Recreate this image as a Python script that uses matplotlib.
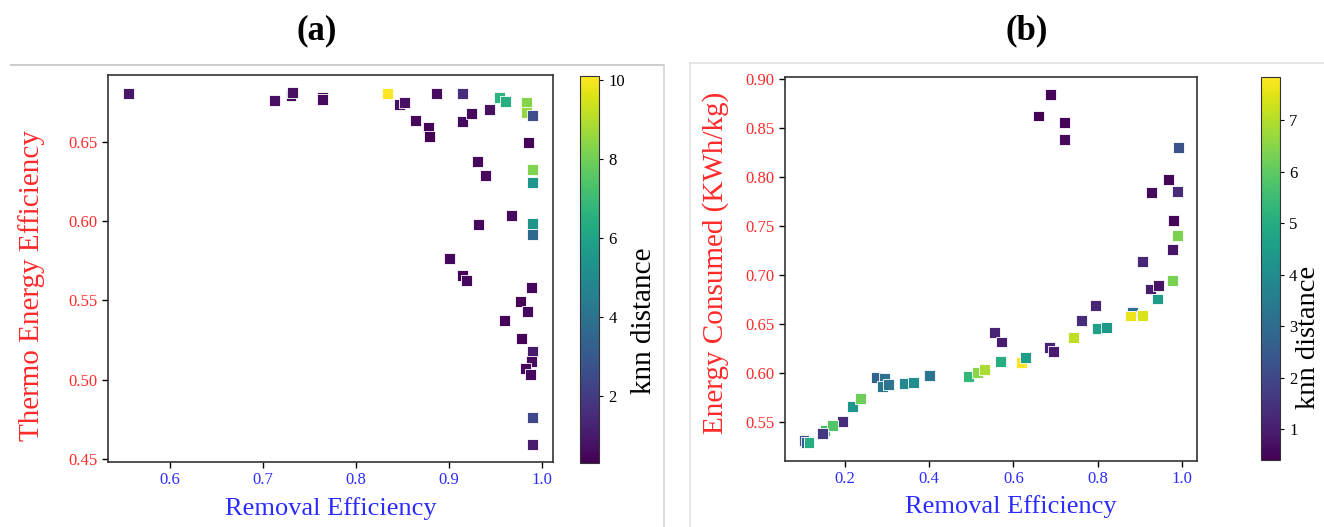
import matplotlib
matplotlib.use('Agg')
import matplotlib.pyplot as plt
from matplotlib.lines import Line2D

plt.rcParams['font.family'] = ['Liberation Serif', 'DejaVu Serif']

# (a) removal efficiency vs thermo energy efficiency
rem_a = [0.5555, 0.712, 0.730, 0.732, 0.7637, 0.764, 0.8334, 0.8466, 0.8517, 0.8643,
         0.8779, 0.879, 0.8865, 0.915, 0.9145, 0.9239, 0.9432, 0.9543, 0.9605, 0.9834,
         0.9834, 0.9896, 0.986, 0.931, 0.939, 0.9899, 0.9899, 0.967, 0.9317, 0.9899,
         0.9899, 0.9002, 0.9145, 0.9185, 0.989, 0.9766, 0.985, 0.9597, 0.9784, 0.9899,
         0.9888, 0.982, 0.9877, 0.9899, 0.9899]
thermo_a = [0.6805, 0.6758, 0.679, 0.681, 0.678, 0.6763, 0.6805, 0.6735, 0.6745, 0.6635,
            0.6588, 0.6532, 0.6802, 0.6802, 0.6624, 0.6676, 0.6704, 0.6777, 0.6752, 0.6745,
            0.6682, 0.6666, 0.6496, 0.6372, 0.6286, 0.6324, 0.6242, 0.6032, 0.598, 0.5986,
            0.5917, 0.5761, 0.5656, 0.5625, 0.5583, 0.5489, 0.5426, 0.5373, 0.5256, 0.5174,
            0.5115, 0.5071, 0.5031, 0.4762, 0.459]
knn_a = [0.9, 0.7, 0.6, 0.7, 0.6, 0.6, 10.1, 0.7, 0.7, 0.5,
         0.4, 0.3, 0.6, 1.6, 0.6, 0.5, 0.7, 6.6, 6.4, 8.3,
         8.5, 2.6, 0.4, 0.5, 0.5, 8.2, 5.4, 0.5, 0.5, 5.4,
         3.6, 0.5, 0.4, 0.5, 0.5, 0.4, 0.5, 0.4, 0.4, 1.0,
         0.6, 0.5, 0.5, 2.4, 1.0]

# (b) removal efficiency vs energy consumed
rem_b = [0.659, 0.687, 0.7218, 0.7202, 0.991, 0.968, 0.9285, 0.9902, 0.9798, 0.9886,
         0.9767, 0.9055, 0.9767, 0.9245, 0.9442, 0.9418, 0.7946, 0.7613, 0.7986, 0.8216,
         0.8833, 0.877, 0.9055, 0.7423, 0.6846, 0.6957, 0.618, 0.6292, 0.5539, 0.5705,
         0.5698, 0.4938, 0.5143, 0.5318, 0.4003, 0.3409, 0.3615, 0.2752, 0.2934, 0.2895,
         0.3029, 0.2182, 0.2364, 0.1945, 0.1525, 0.1698, 0.1461, 0.1026, 0.1074, 0.1145]
energy_b = [0.8619, 0.8838, 0.8548, 0.8382, 0.8297, 0.7974, 0.7841, 0.7849, 0.7556, 0.74,
            0.7257, 0.7135, 0.6941, 0.6853, 0.6886, 0.6751, 0.6683, 0.6527, 0.6452, 0.6462,
            0.6611, 0.6577, 0.6584, 0.6356, 0.6258, 0.6211, 0.6105, 0.6149, 0.6407, 0.6312,
            0.6109, 0.5963, 0.5999, 0.6034, 0.5966, 0.5887, 0.5901, 0.5945, 0.5938, 0.5857,
            0.5877, 0.565, 0.5734, 0.5497, 0.5412, 0.5463, 0.5375, 0.5306, 0.5286, 0.5283]
knn_b = [0.4, 0.5, 0.5, 0.6, 2.3, 0.5, 0.6, 1.3, 0.5, 6.35,
         0.8, 1.2, 6.3, 1.0, 0.8, 4.5, 1.2, 1.3, 4.6, 4.4,
         3.2, 7.6, 7.4, 7.1, 1.1, 1.0, 7.83, 4.5, 1.1, 1.0,
         5.0, 5.3, 6.5, 6.9, 3.3, 3.9, 4.0, 2.7, 3.2, 3.4,
         3.3, 4.3, 6.2, 1.3, 5.6, 5.8, 1.6, 2.3, 2.6, 5.0]

red = '#ff2a2a'
blue = '#2b2bff'

fig = plt.figure(figsize=(13.24, 5.27), dpi=100)

# light frames around each panel
fig.add_artist(Line2D([11/1324, 664/1324], [1-65.3/527, 1-65.3/527], color='#c4c4c4', lw=1.2))
fig.add_artist(Line2D([664/1324, 664/1324], [0, 1-65.3/527], color='#d4d4d4', lw=1.2))
fig.add_artist(Line2D([690/1324, 1], [1-62.7/527, 1-62.7/527], color='#e2e2e2', lw=1.2))
fig.add_artist(Line2D([690/1324, 690/1324], [0, 1-62.7/527], color='#e2e2e2', lw=1.2))


def style(ax, cax, sc, xlabel, ylabel, cticks, ypad, cpad, csize):
    ax.set_xlabel(xlabel, color=blue, fontsize=19, labelpad=6)
    ax.set_ylabel(ylabel, color=red, fontsize=21, labelpad=ypad)
    ax.tick_params(axis='x', labelcolor=blue, labelsize=12, length=4, width=1)
    ax.tick_params(axis='y', labelcolor=red, labelsize=12, length=4, width=1)
    for s in ax.spines.values():
        s.set_color('#333333')
        s.set_linewidth(1.2)
    cb = fig.colorbar(sc, cax=cax, ticks=cticks)
    cb.set_label('knn distance', fontsize=csize, labelpad=cpad)
    cb.ax.tick_params(labelsize=12, length=3)
    cb.outline.set_edgecolor('#333333')
    return cb


ax1 = fig.add_axes([108/1324, 65/527, 445/1324, 387/527])
cax1 = fig.add_axes([580/1324, 64/527, 19.3/1324, 387.3/527])
sc1 = ax1.scatter(rem_a, thermo_a, c=knn_a, cmap='viridis', marker='s', s=62,
                  edgecolors='white', linewidths=0.6)
ax1.set_xlim(0.533, 1.012)
ax1.set_ylim(0.448, 0.692)
ax1.set_xticks([0.6, 0.7, 0.8, 0.9, 1.0])
ax1.set_yticks([0.45, 0.50, 0.55, 0.60, 0.65])
cb1 = style(ax1, cax1, sc1, 'Removal Efficiency', 'Thermo Energy Efficiency',
            [2, 4, 6, 8, 10], 17, 4, 21)
ax1.yaxis.label.set_y(0.457)
cb1.ax.yaxis.label.set_y(0.367)

ax2 = fig.add_axes([785/1324, 66.3/527, 411.7/1324, 384/527])
cax2 = fig.add_axes([1260.7/1324, 67/527, 19.3/1324, 382.7/527])
sc2 = ax2.scatter(rem_b, energy_b, c=knn_b, cmap='viridis', marker='s', s=62,
                  edgecolors='white', linewidths=0.6)
ax2.set_xlim(0.0575, 1.035)
ax2.set_ylim(0.510, 0.902)
ax2.set_xticks([0.2, 0.4, 0.6, 0.8, 1.0])
ax2.set_yticks([0.55, 0.60, 0.65, 0.70, 0.75, 0.80, 0.85, 0.90])
cb2 = style(ax2, cax2, sc2, 'Removal Efficiency', 'Energy Consumed (KWh/kg)',
            [1, 2, 3, 4, 5, 6, 7], 12, -1, 20.5)
ax2.yaxis.label.set_y(0.516)
ax2.xaxis.label.set_x(0.549)
cb2.ax.yaxis.label.set_y(0.319)

# panel titles
fig.text(317/1324, 1-31/527, '(a)', ha='center', va='center', fontsize=25, fontweight='bold')
fig.text(1027/1324, 1-31/527, '(b)', ha='center', va='center', fontsize=25, fontweight='bold')

fig.savefig('out.png', dpi=100)
